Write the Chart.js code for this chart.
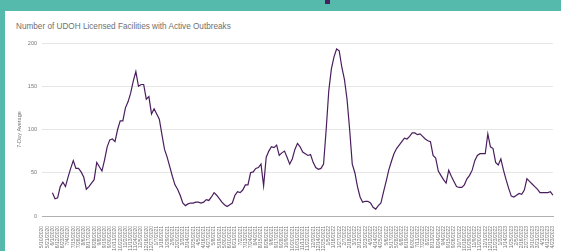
<!DOCTYPE html>
<html>
<head>
<meta charset="utf-8">
<script src="https://cdn.jsdelivr.net/npm/chart.js@4"></script>
<style>
  html, body { margin: 0; padding: 0; }
  body { width: 561px; height: 251px; background: #55b9ab; position: relative; overflow: hidden; }
  #card { position: absolute; left: 5px; top: 11px; width: 556px; height: 240px; background: #ffffff; }
  #mark { position: absolute; left: 325px; top: 0; width: 5px; height: 4px; background: #4a1e5e; }
  #title { position: absolute; left: 16px; top: 22px; font-family: "Liberation Sans", Arial, sans-serif; font-size: 8.2px; color: #707070; white-space: nowrap; }
  #wrap { position: absolute; left: 5px; top: 11px; width: 556px; height: 240px; }
</style>
</head>
<body>
<div id="card"></div>
<div id="mark"></div>
<div id="title">Number of UDOH Licensed Facilities with Active Outbreaks</div>
<div id="wrap"><canvas id="c"></canvas></div>
<script>
// Tick labels (every 11 days)
const tickLabels = [
  "5/10/2020","5/21/2020","6/1/2020","6/12/2020","6/23/2020","7/4/2020","7/15/2020","7/26/2020","8/6/2020","8/17/2020",
  "8/28/2020","9/8/2020","9/19/2020","9/30/2020","10/11/2020","10/22/2020","11/2/2020","11/13/2020","11/24/2020","12/5/2020",
  "12/16/2020","12/27/2020","1/7/2021","1/18/2021","1/29/2021","2/9/2021","2/20/2021","3/3/2021","3/14/2021","3/25/2021",
  "4/5/2021","4/16/2021","4/27/2021","5/8/2021","5/19/2021","5/30/2021","6/10/2021","6/21/2021","7/2/2021","7/13/2021",
  "7/24/2021","8/4/2021","8/15/2021","8/26/2021","9/6/2021","9/17/2021","9/28/2021","10/9/2021","10/20/2021","10/31/2021",
  "11/11/2021","11/22/2021","12/3/2021","12/14/2021","12/25/2021","1/5/2022","1/16/2022","1/27/2022","2/7/2022","2/18/2022",
  "3/1/2022","3/12/2022","3/23/2022","4/3/2022","4/14/2022","4/25/2022","5/6/2022","5/17/2022","5/28/2022","6/8/2022",
  "6/19/2022","6/30/2022","7/11/2022","7/22/2022","8/2/2022","8/13/2022","8/24/2022","9/4/2022","9/15/2022","9/26/2022",
  "10/7/2022","10/18/2022","10/29/2022","11/9/2022","11/20/2022","12/1/2022","12/12/2022","12/23/2022","1/3/2023","1/14/2023",
  "1/25/2023","2/5/2023","2/16/2023","2/27/2023","3/10/2023","3/21/2023","4/1/2023","4/12/2023","4/23/2023"
];
// 7-day average sampled twice per tick interval (on the tick date and midway to the next)
const sevenDayAverage = [
  null, null,   null, null,   27, 20,   21, 34,   39, 34,
  45, 55,   64, 55,   55, 51,   45, 31,   34, 38,
  42, 62,   57, 52,   65, 80,   88, 89,   86, 100,
  110, 110,   125, 132,   142, 156,   167, 150,   152, 152,
  135, 138,   118, 124,   118, 112,   94, 77,   68, 57,
  46, 36,   31, 24,   15, 12,   14, 15,   15, 16,
  16, 15,   16, 19,   18, 22,   27, 24,   20, 16,
  13, 11,   13, 15,   24, 28,   27, 30,   36, 36,
  50, 51,   55, 56,   60, 35,   68, 75,   80, 79,
  82, 70,   73, 75,   68, 60,   66, 77,   84, 80,
  74, 72,   70, 71,   62, 56,   54, 55,   60, 100,
  145, 170,   184, 193,   191, 172,   158, 135,   100, 60,
  50, 34,   22, 16,   17, 17,   15, 10,   8, 12,
  15, 28,   40, 53,   63, 72,   78, 82,   86, 90,
  89, 92,   96, 96,   94, 95,   92, 89,   87, 86,
  70, 67,   52, 47,   42, 38,   53, 46,   40, 34,
  33, 33,   36, 43,   47, 53,   64, 70,   72, 72,
  72, 95,   80, 78,   62, 59,   66, 53,   42, 32,
  23, 22,   24, 26,   25, 30,   43, 40,   37, 34,
  31, 27,   27, 27,   27, 28,   24
];
const yTicks = [0, 50, 100, 150, 200];

const categories = sevenDayAverage.map((_, j) => (j % 2 === 0 ? tickLabels[j / 2] : ''));

new Chart(document.getElementById('c'), {
  type: 'line',
  data: {
    labels: categories,
    datasets: [{
      data: sevenDayAverage,
      borderColor: '#4a1e5e',
      borderWidth: 1.2,
      pointRadius: 0,
      tension: 0,
      fill: false
    }]
  },
  options: {
    responsive: true,
    maintainAspectRatio: false,
    animation: false,
    layout: { padding: { top: 32, right: 8, left: 0, bottom: 0 } },
    plugins: { legend: { display: false }, tooltip: { enabled: false } },
    scales: {
      x: {
        grid: { display: false },
        border: { display: true, color: '#b0b0b0', width: 1 },
        ticks: {
          autoSkip: false, maxRotation: 90, minRotation: 90, padding: 2,
          color: '#777', font: { family: 'Liberation Sans', size: 5 }
        },
        afterFit: s => { s.height = 35; }
      },
      y: {
        min: 0, max: 200,
        afterBuildTicks: s => { s.ticks = yTicks.map(v => ({ value: v })); },
        grid: { color: '#e6e6e6', drawTicks: false, lineWidth: 1 },
        border: { display: false },
        ticks: { padding: 5, color: '#777', font: { family: 'Liberation Sans', size: 5.5 } },
        title: {
          display: true, text: '7-Day Average', color: '#777',
          font: { family: 'Liberation Sans', size: 5.5 }, padding: { top: 11, bottom: 0 }
        },
        afterFit: s => { s.width = 37; }
      }
    }
  }
});
</script>
</body>
</html>
